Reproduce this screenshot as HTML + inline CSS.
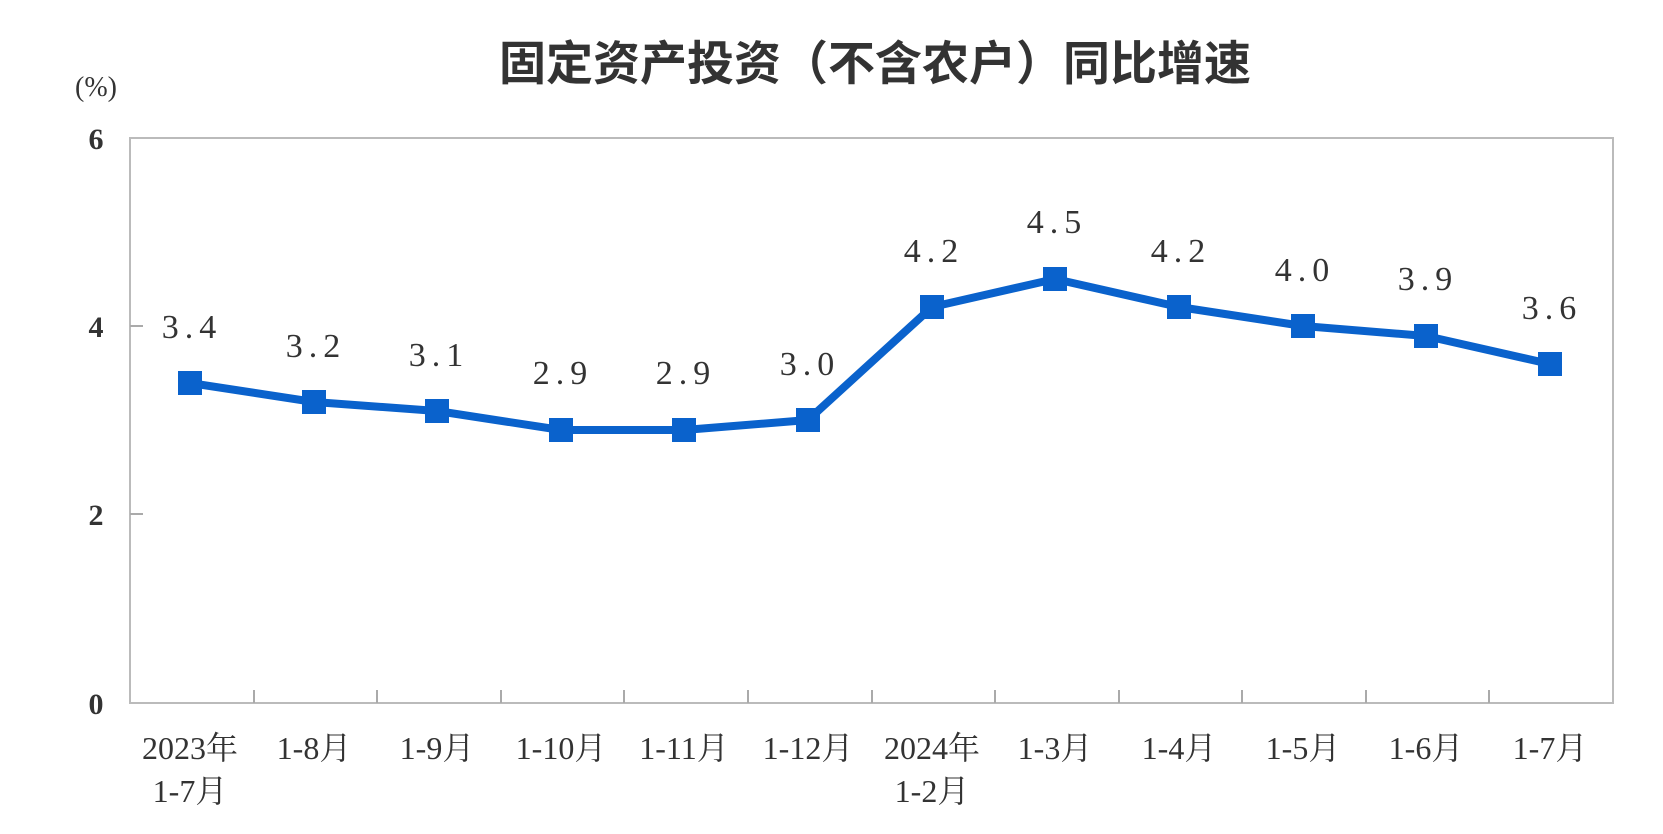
<!DOCTYPE html>
<html><head><meta charset="utf-8"><style>
html,body{margin:0;padding:0;background:#fff;}
svg{display:block;}
text{font-family:"Liberation Serif","Noto Serif CJK SC",serif;fill:#333;}
</style></head><body>
<svg width="1663" height="834" xmlns="http://www.w3.org/2000/svg">
<text x="875" y="80" font-size="47" font-weight="bold" text-anchor="middle" style="font-family:'Noto Sans CJK SC',sans-serif" fill="#222">固定资产投资（不含农户）同比增速</text>
<text x="96" y="96" font-size="28" text-anchor="middle">(%)</text>
<rect x="130" y="138" width="1483" height="565" fill="none" stroke="#bbb" stroke-width="2"/>
<g stroke="#aaa" stroke-width="2">
<line x1="130" y1="326" x2="143" y2="326"/><line x1="130" y1="514" x2="143" y2="514"/>
<line x1="254" y1="703" x2="254" y2="690"/><line x1="377" y1="703" x2="377" y2="690"/><line x1="501" y1="703" x2="501" y2="690"/><line x1="624" y1="703" x2="624" y2="690"/><line x1="748" y1="703" x2="748" y2="690"/><line x1="872" y1="703" x2="872" y2="690"/><line x1="995" y1="703" x2="995" y2="690"/><line x1="1119" y1="703" x2="1119" y2="690"/><line x1="1242" y1="703" x2="1242" y2="690"/><line x1="1366" y1="703" x2="1366" y2="690"/><line x1="1489" y1="703" x2="1489" y2="690"/>
</g>
<g font-size="30" text-anchor="middle" font-weight="bold">
<text x="96" y="149">6</text><text x="96" y="337">4</text><text x="96" y="525">2</text><text x="96" y="714">0</text>
</g>
<polyline fill="none" stroke="#0a62cc" stroke-width="8" stroke-linejoin="round" points="190,383 314,402 437,411 561,430 684,430 808,420 932,307 1055,279 1179,307 1303,326 1426,336 1550,364"/>
<g fill="#0a62cc">
<rect x="178" y="371" width="24" height="24"/><rect x="302" y="390" width="24" height="24"/><rect x="425" y="399" width="24" height="24"/><rect x="549" y="418" width="24" height="24"/><rect x="672" y="418" width="24" height="24"/><rect x="796" y="408" width="24" height="24"/><rect x="920" y="295" width="24" height="24"/><rect x="1043" y="267" width="24" height="24"/><rect x="1167" y="295" width="24" height="24"/><rect x="1291" y="314" width="24" height="24"/><rect x="1414" y="324" width="24" height="24"/><rect x="1538" y="352" width="24" height="24"/>
</g>
<g font-size="34" text-anchor="middle" letter-spacing="6">
<text x="192" y="338">3.4</text><text x="316" y="357">3.2</text><text x="439" y="366">3.1</text><text x="563" y="384">2.9</text><text x="686" y="384">2.9</text><text x="810" y="375">3.0</text><text x="934" y="262">4.2</text><text x="1057" y="233">4.5</text><text x="1181" y="262">4.2</text><text x="1305" y="281">4.0</text><text x="1428" y="290">3.9</text><text x="1552" y="319">3.6</text>
</g>
<g font-size="32" text-anchor="middle">
<text x="190" y="759">2023年</text><text x="190" y="802">1-7月</text>
<text x="314" y="759">1-8月</text><text x="437" y="759">1-9月</text><text x="561" y="759">1-10月</text><text x="684" y="759">1-11月</text><text x="808" y="759">1-12月</text>
<text x="932" y="759">2024年</text><text x="932" y="802">1-2月</text>
<text x="1055" y="759">1-3月</text><text x="1179" y="759">1-4月</text><text x="1303" y="759">1-5月</text><text x="1426" y="759">1-6月</text><text x="1550" y="759">1-7月</text>
</g>
</svg>
</body></html>
